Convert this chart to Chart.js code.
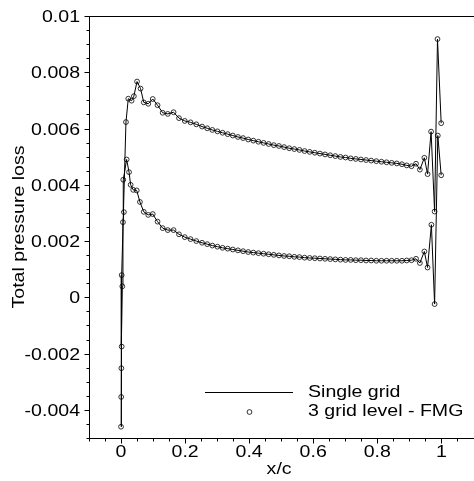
<!DOCTYPE html>
<html>
<head>
<meta charset="utf-8">
<script src="https://cdn.jsdelivr.net/npm/chart.js@4.4.0/dist/chart.umd.min.js"></script>
<style>
  html, body { margin: 0; padding: 0; background: #fff; }
</style>
</head>
<body>
<canvas id="chart" width="474" height="481"></canvas>
<script>
// ---------- DATA ----------
// upper branch, leading edge -> trailing edge
const upperX = [0.000, 0.001, 0.002, 0.0154, 0.0226, 0.033, 0.040, 0.050, 0.061, 0.071, 0.085, 0.099, 0.114, 0.130, 0.146, 0.164, 0.181, 0.199, 0.217, 0.235, 0.253,
    0.269, 0.285, 0.301, 0.317, 0.333, 0.349, 0.365, 0.381, 0.397, 0.413, 0.429, 0.445, 0.461, 0.477, 0.493, 0.509, 0.525, 0.541, 0.557, 0.573,
    0.589, 0.605, 0.621, 0.637, 0.653, 0.669, 0.685, 0.701, 0.717, 0.733, 0.749, 0.765, 0.781, 0.797, 0.813, 0.829, 0.845, 0.861, 0.877, 0.892, 0.907,
    0.921, 0.933, 0.947, 0.957, 0.968, 0.979, 0.988, 0.9995];
const upperY = [-0.0046, -0.00252, 0.00079, 0.00623, 0.00706, 0.00699, 0.00715, 0.00767, 0.00742, 0.00693, 0.00688, 0.00705, 0.00683, 0.00656, 0.00652, 0.00658, 0.00637, 0.00627, 0.00622, 0.00615, 0.00607,
    0.00601, 0.00595, 0.00590, 0.00585, 0.00580, 0.00575, 0.00570, 0.00566, 0.00561, 0.00557, 0.00553, 0.00549, 0.00545, 0.00541, 0.00538, 0.00534, 0.00530, 0.00527, 0.00524, 0.00520,
    0.00517, 0.00514, 0.00511, 0.00508, 0.00505, 0.00502, 0.00499, 0.00497, 0.00494, 0.00492, 0.00490, 0.00488, 0.00486, 0.00484, 0.00482, 0.00480, 0.00478, 0.00476, 0.00473, 0.00469, 0.00466,
    0.00475, 0.00454, 0.00496, 0.00438, 0.00589, 0.00305, 0.00918, 0.00619];

// lower branch, leading edge -> trailing edge
const lowerX = [0.000, 0.0005, 0.002, 0.004, 0.006, 0.009, 0.007, 0.0175, 0.025, 0.030, 0.038, 0.049, 0.059, 0.071, 0.085, 0.099, 0.114, 0.130, 0.146, 0.164, 0.181, 0.199, 0.217, 0.235, 0.253,
    0.269, 0.285, 0.301, 0.317, 0.333, 0.349, 0.365, 0.381, 0.397, 0.413, 0.429, 0.445, 0.461, 0.477, 0.493, 0.509, 0.525, 0.541, 0.557, 0.573,
    0.589, 0.605, 0.621, 0.637, 0.653, 0.669, 0.685, 0.701, 0.717, 0.733, 0.749, 0.765, 0.781, 0.797, 0.813, 0.829, 0.845, 0.861, 0.877, 0.892, 0.907,
    0.921, 0.933, 0.947, 0.957, 0.969, 0.979, 0.989, 0.9995];
const lowerY = [-0.0046, -0.00354, -0.00175, 0.00039, 0.00267, 0.00303, 0.00418, 0.0049, 0.00445, 0.0040, 0.00382, 0.0038, 0.00339, 0.00304, 0.00293, 0.00296, 0.00269, 0.00246, 0.00239, 0.00239, 0.00224, 0.00214, 0.00207, 0.00200, 0.00194,
    0.00189, 0.00184, 0.00180, 0.00176, 0.00173, 0.00170, 0.00167, 0.00164, 0.00161, 0.00159, 0.00157, 0.00155, 0.00153, 0.00151, 0.00149, 0.00147, 0.00146, 0.00144, 0.00143, 0.00141,
    0.00140, 0.00139, 0.00138, 0.00137, 0.00136, 0.00135, 0.00134, 0.00133, 0.00133, 0.00132, 0.00132, 0.00131, 0.00131, 0.00130, 0.00130, 0.00130, 0.00130, 0.00130, 0.00130, 0.00131, 0.00132,
    0.00137, 0.00122, 0.00163, 0.00106, 0.00258, -0.00024, 0.00575, 0.00434];

const xTicks = [0, 0.2, 0.4, 0.6, 0.8, 1];
const xTickLabels = ['0', '0.2', '0.4', '0.6', '0.8', '1'];
const yTicks = [-0.004, -0.002, 0, 0.002, 0.004, 0.006, 0.008, 0.01];
const yTickLabels = ['-0.004', '-0.002', '0', '0.002', '0.004', '0.006', '0.008', '0.01'];
const seriesNames = ['Single grid', '3 grid level - FMG'];

// ---------- BUILD ONE LOOP: upper TE -> LE -> lower TE ----------
const loop = [];
for (let i = upperX.length - 1; i >= 0; i--) loop.push({ x: upperX[i], y: upperY[i] });
for (let i = 1; i < lowerX.length; i++) loop.push({ x: lowerX[i], y: lowerY[i] });

const FONT = '17px "Liberation Sans", Arial, sans-serif';
const STRETCH = 1.15;

function text(ctx, str, x, y, align, angle) {
    ctx.save();
    ctx.translate(x, y);
    if (angle) ctx.rotate(angle);
    ctx.scale(STRETCH, 1);
    ctx.textAlign = align;
    ctx.textBaseline = 'alphabetic';
    ctx.fillText(str, 0, 0);
    ctx.restore();
}

// ---------- AXES, TICKS, TITLES, LEGEND ----------
const frame = {
    id: 'frame',
    afterDraw(chart) {
        const { ctx, chartArea: a, scales: { x, y } } = chart;
        ctx.save();
        ctx.strokeStyle = '#000';
        ctx.fillStyle = '#000';
        ctx.lineWidth = 1;
        ctx.font = FONT;

        const L = Math.round(a.left) + 0.5, B = Math.round(a.bottom) + 0.5, T = Math.round(a.top) + 0.5;
        ctx.beginPath();
        ctx.moveTo(L, T); ctx.lineTo(chart.width, T);
        ctx.moveTo(L, T); ctx.lineTo(L, B);
        ctx.moveTo(L, B); ctx.lineTo(chart.width, B);

        // minor ticks
        for (let i = -2; i <= 21; i++) {
            const px = Math.round(x.getPixelForValue(i * 0.05)) + 0.5;
            if (px < a.left - 0.5 || px > a.right) continue;
            ctx.moveTo(px, B); ctx.lineTo(px, B + 3);
        }
        for (let i = -10; i <= 20; i++) {
            const py = Math.round(y.getPixelForValue(i * 0.0005)) + 0.5;
            ctx.moveTo(L, py); ctx.lineTo(L - 3, py);
        }
        // major ticks
        xTicks.forEach(v => {
            const px = Math.round(x.getPixelForValue(v)) + 0.5;
            ctx.moveTo(px, B); ctx.lineTo(px, B + 5);
        });
        yTicks.forEach(v => {
            const py = Math.round(y.getPixelForValue(v)) + 0.5;
            ctx.moveTo(L, py); ctx.lineTo(L - 5, py);
        });
        ctx.stroke();

        // tick labels
        xTicks.forEach((v, i) => text(ctx, xTickLabels[i], x.getPixelForValue(v), 457, 'center'));
        yTicks.forEach((v, i) => text(ctx, yTickLabels[i], 80, y.getPixelForValue(v) + 6, 'right'));

        // axis titles
        text(ctx, 'x/c', (a.left + a.right) / 2, 474, 'center');
        text(ctx, 'Total pressure loss', 24, (a.top + a.bottom) / 2, 'center', -Math.PI / 2);

        // legend
        ctx.beginPath();
        ctx.moveTo(205, 392.5); ctx.lineTo(293, 392.5);
        ctx.stroke();
        ctx.beginPath();
        ctx.lineWidth = 0.8;
        ctx.arc(249.5, 412, 2.4, 0, Math.PI * 2);
        ctx.stroke();
        text(ctx, seriesNames[0], 308, 397, 'left');
        text(ctx, seriesNames[1], 308, 416, 'left');
        ctx.restore();
    }
};

new Chart(document.getElementById('chart'), {
    type: 'scatter',
    data: {
        datasets: [
            { label: seriesNames[0], data: loop, showLine: true, pointRadius: 0, borderColor: '#000', borderWidth: 1, tension: 0 },
            { label: seriesNames[1], data: loop, showLine: false, pointRadius: 2.4, pointBorderWidth: 0.8,
              pointBackgroundColor: 'rgba(0,0,0,0)', pointBorderColor: '#000' }
        ]
    },
    options: {
        responsive: false,
        animation: false,
        events: [],
        devicePixelRatio: 1,
        layout: { padding: { left: 89, top: 16, right: 0, bottom: 43 } },
        plugins: { legend: { display: false }, tooltip: { enabled: false } },
        scales: {
            x: { type: 'linear', min: -0.1, max: 1.087, display: false },
            y: { type: 'linear', min: -0.005, max: 0.01, display: false }
        }
    },
    plugins: [frame]
});
</script>
</body>
</html>
